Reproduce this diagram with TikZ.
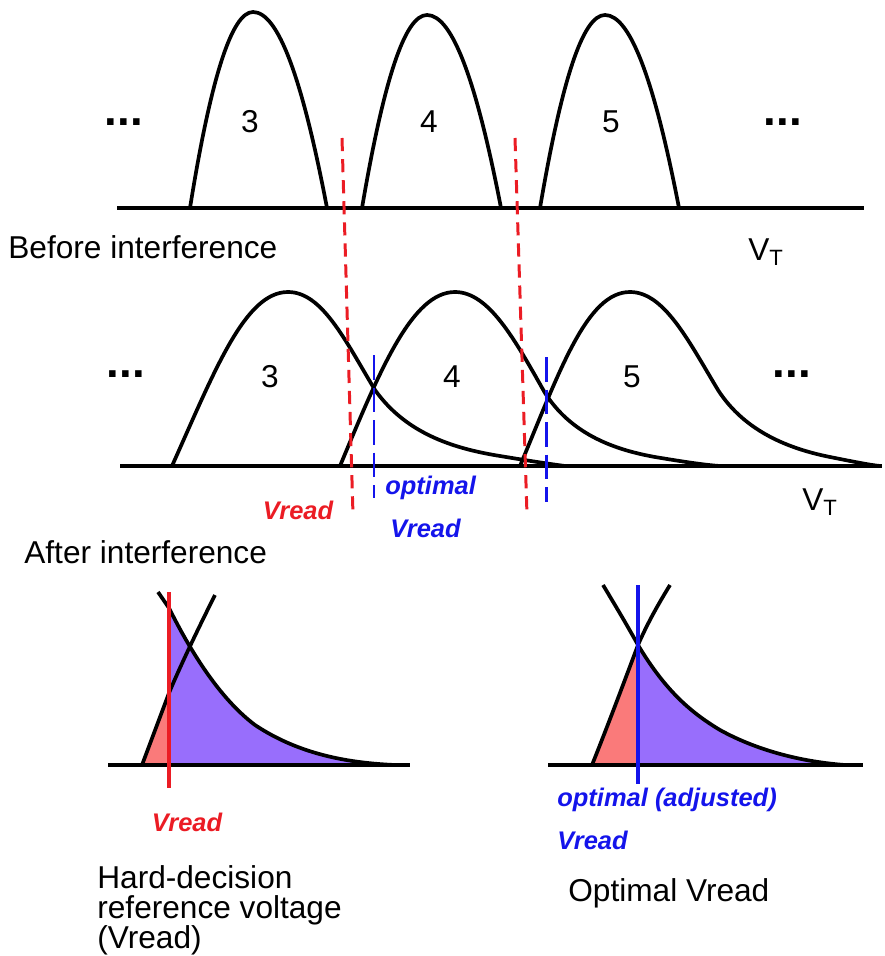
\documentclass[tikz,border=0pt]{standalone}
\usepackage{fontspec}
\setmainfont{Liberation Sans}
\usepackage{xcolor}

\begin{document}
\begin{tikzpicture}[x=0.02cm, y=-0.02cm, every node/.style={font=\fontsize{18}{17}\selectfont, inner sep=0pt},
		bell/.style={draw=black, line width=2.1pt, line join=round},
		axisline/.style={draw=black, line width=2.6pt},
		readcut/.style={draw=vreadred, line width=1.7pt, dash pattern=on 7.5pt off 4.5pt},
		optcut/.style={draw=vreadblue, line width=1.7pt, dash pattern=on 14pt off 4.5pt},
		vtag/.style={font=\fontsize{14.5}{16}\selectfont\bfseries\itshape},
		dotsbox/.style={font=\fontsize{26}{26}\selectfont\bfseries}]
		% Define colors
		\definecolor{vreadred}{RGB}{235, 28, 36}
		\definecolor{vreadblue}{RGB}{20, 20, 235}
		\definecolor{errfill}{RGB}{250, 122, 122}
		\definecolor{okfill}{RGB}{152, 110, 252}
		
		\useasboundingbox (0,0) rectangle (885,956);
		
		% ===== BEFORE INTERFERENCE (top) =====
		\draw[axisline] (117,208) -- (864,208);
		\draw[bell] (190,208) .. controls (211,77) and (232,12) .. (253,12) .. controls (278,12) and (302,77) .. (327,208);
		\draw[bell] (362,208) .. controls (384,79) and (405,15) .. (427,15) .. controls (452,15) and (476,79) .. (501,208);
		\draw[bell] (540,208) .. controls (562,79) and (583,15) .. (605,15) .. controls (630,15) and (654,79) .. (679,208);
		\node[dotsbox] (dotsA) at (124,122) {...};
		\node (topthree) at (250,122) {3};
		\node (topfour) at (429,122) {4};
		\node (topfive) at (611,122) {5};
		\node[dotsbox] (dotsB) at (783,122) {...};
		\node[anchor=west] (before) at (8,247) {Before interference};
		\node (vtA) at (766,252) {V\textsubscript{T}};
		
		% ===== AFTER INTERFERENCE (middle) =====
		\draw[axisline] (120,466) -- (882,466);
		\draw[bell] (172,466) .. controls (215,370) and (245,292) .. (288,292) .. controls (322,292) and (345,340) .. (375,390)
			.. controls (405,432) and (450,448) .. (500,456) .. controls (530,461) and (550,464) .. (565,466);
		\draw[bell] (340,466) .. controls (380,370) and (412,292) .. (455,292) .. controls (489,292) and (515,340) .. (545,393)
			.. controls (570,432) and (610,449) .. (655,457) .. controls (685,462) and (705,465) .. (720,466);
		\draw[bell] (520,466) .. controls (560,370) and (587,292) .. (630,292) .. controls (664,292) and (688,340) .. (718,390)
			.. controls (745,432) and (790,449) .. (830,457) .. controls (855,462) and (870,465) .. (880,466);
		\node[dotsbox] (dotsC) at (126,374) {...};
		\node (midthree) at (270,377) {3};
		\node (midfour) at (452,377) {4};
		\node (midfive) at (632,377) {5};
		\node[dotsbox] (dotsD) at (792,374) {...};
		\node (vtB) at (820,502) {V\textsubscript{T}};
		\node[anchor=west] (after) at (24,552) {After interference};
		
		% read levels (red = fixed, blue = optimal)
		\draw[readcut] (342,138) -- (353,515);
		\draw[readcut] (515,138) -- (527,515);
		\draw[optcut] (374,355) -- (374,498);
		\draw[optcut] (546,357) -- (546,502);
		\node[vtag, text=vreadred] (vreadA) at (298,510) {Vread};
		\node[vtag, text=vreadblue, anchor=west] (optA) at (385,488) {optimal};
		\node[vtag, text=vreadblue, anchor=west] (vreadB) at (390,528) {Vread};
		
		% ===== HARD-DECISION (bottom left) =====
		\fill[errfill] (142,765) -- (169,693) -- (169,765) -- cycle;
		\fill[okfill] (169,608) .. controls (185,640) and (215,695) .. (255,725) .. controls (300,755) and (350,763) .. (395,765) -- (169,765) -- cycle;
		\draw[bell] (158,592) -- (169,608) .. controls (185,640) and (215,695) .. (255,725) .. controls (300,755) and (350,763) .. (395,765);
		\draw[bell] (142,765) -- (169,693) .. controls (182,662) and (200,625) .. (215,595);
		\draw[axisline, line width=2.1pt] (108,765) -- (410,765);
		\draw[vreadred, line width=1.8pt] (169,592) -- (169,788);
		\node[vtag, text=vreadred] (vreadC) at (187,822) {Vread};
		\node[anchor=north west, align=left] (hard) at (97,865) {Hard-decision\\reference voltage\\(Vread)};
		
		% ===== OPTIMAL (bottom right) =====
		\fill[errfill] (592,765) .. controls (608,725) and (623,685) .. (638,645) -- (638,765) -- cycle;
		\fill[okfill] (638,645) .. controls (665,690) and (690,712) .. (720,730) .. controls (760,752) and (805,762) .. (845,765) -- (638,765) -- cycle;
		\draw[bell] (603,585) .. controls (615,605) and (627,625) .. (638,645) .. controls (665,690) and (690,712) .. (720,730)
			.. controls (760,752) and (805,762) .. (845,765);
		\draw[bell] (592,765) .. controls (608,725) and (623,685) .. (638,645) .. controls (648,622) and (659,603) .. (670,585);
		\draw[axisline, line width=2.1pt] (548,765) -- (863,765);
		\draw[vreadblue, line width=1.8pt] (638,585) -- (638,784);
		\node[vtag, text=vreadblue, anchor=west] (optB) at (557,800) {optimal (adjusted)};
		\node[vtag, text=vreadblue, anchor=west] (vreadD) at (557,840) {Vread};
		\node[anchor=west] (optimal) at (568,893) {Optimal Vread};
		
	\end{tikzpicture}
\end{document}
